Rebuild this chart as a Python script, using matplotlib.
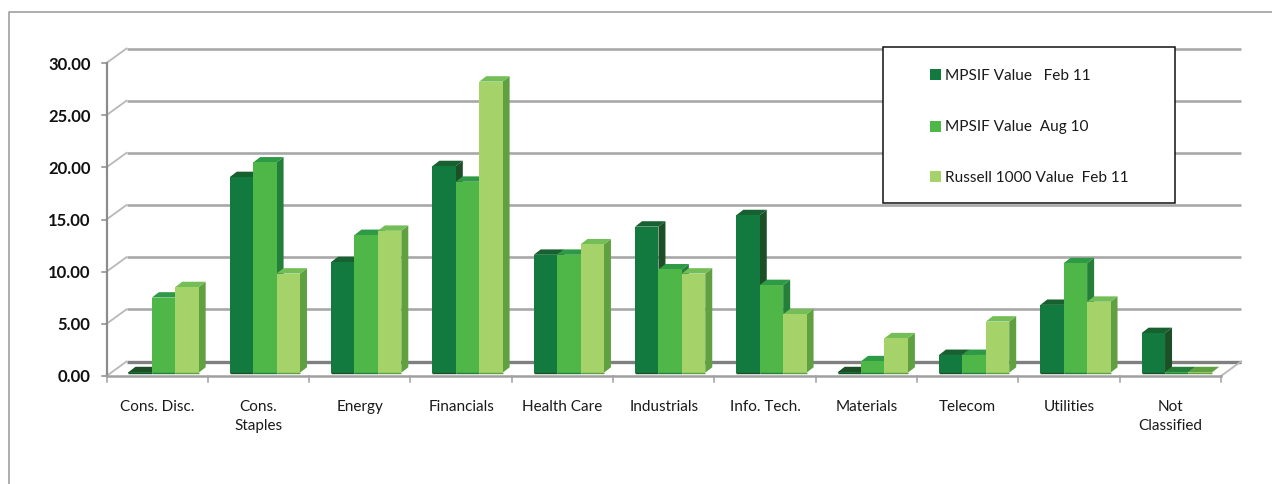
import matplotlib
matplotlib.use("Agg")
import matplotlib.pyplot as plt
from matplotlib.patches import Polygon, Rectangle
from matplotlib.lines import Line2D

plt.rcParams['font.family'] = ['Lato', 'DejaVu Sans']

categories = ["Cons. Disc.", "Cons.\nStaples", "Energy", "Financials", "Health Care", "Industrials",
              "Info. Tech.", "Materials", "Telecom", "Utilities", "Not\nClassified"]
mpsif_feb = [0.05, 18.75, 10.6, 19.8, 11.3, 14.0, 15.1, 0.05, 1.7, 6.5, 3.8]
mpsif_aug = [7.2, 20.15, 13.2, 18.3, 11.3, 9.9, 8.4, 1.1, 1.7, 10.5, 0.05]
russell = [8.2, 9.5, 13.6, 27.9, 12.3, 9.5, 5.6, 3.3, 4.9, 6.8, 0.05]
series_names = ["MPSIF Value   Feb 11", "MPSIF Value  Aug 10", "Russell 1000 Value  Feb 11"]
yticks = [0, 5, 10, 15, 20, 25, 30]

W, H = 1272, 484
fig = plt.figure(figsize=(W / 100, H / 100), dpi=100)
L, R, T, B = 106.5, 1221, 63, 376
ax = fig.add_axes([L / W, 1 - B / H, (R - L) / W, (B - T) / H])
ax.set_xlim(0, len(categories))
ax.set_ylim(0, 30)
ax.axis("off")

# pixels to data units
px = len(categories) / (R - L)
py = 30 / (B - T)

# chart frame
fig.add_artist(Line2D([9 / W, 9 / W, 1], [0, 1 - 12 / H, 1 - 12 / H], color="#a0a0a0", lw=1.2))

# back wall grid and the side connectors
wall_dx, wall_dy = 20 * px, 14.5 * py
for v in yticks:
    c = "#7f7f7f" if v == 0 else "#a8a8a8"
    ax.plot([wall_dx, len(categories) + wall_dx], [v + wall_dy] * 2, color=c, lw=2.4 if v == 0 else 1.9,
            clip_on=False, zorder=1, solid_capstyle="butt")
    ax.plot([0, wall_dx], [v, v + wall_dy], color="#b8b8b8", lw=1.3, clip_on=False, zorder=1)
    ax.plot([-5 * px, 0], [v, v], color="#8c8c8c", lw=1.1, clip_on=False, zorder=1)
    ax.text(-16 * px, v - 1.5 * py, f"{v:.2f}", ha="right", va="center", fontsize=12, fontweight="bold", color="#111111")
ax.plot([len(categories), len(categories) + wall_dx], [0, wall_dy], color="#b8b8b8", lw=1.3, clip_on=False, zorder=1)

# axis lines
ax.plot([0, 0], [0, 30], color="#8c8c8c", lw=1.6, clip_on=False, zorder=2)
ax.plot([0, len(categories)], [0, 0], color="#a0a0a0", lw=1.8, clip_on=False, zorder=2)
for i in range(len(categories) + 1):
    ax.plot([i, i], [0, -6 * py], color="#a0a0a0", lw=1.1, clip_on=False, zorder=2)
for i, name in enumerate(categories):
    ax.text(i + 0.5, -24 * py, name, ha="center", va="top", fontsize=11, color="#1a1a1a", linespacing=1.42)

# front, top, side colours per series
styles = [("#127a3e", "#17602f", "#1c4f25"),
          ("#4eb748", "#2e9a45", "#237f3a"),
          ("#a6d26a", "#74be57", "#5fa041")]
bar_w = 23.4 * px
dx, dy = 7 * px, 5.4 * py
base = 3.3 * py
group_shift = 0.5 + 6.4 * px - 1.5 * bar_w

z = 3
for i in range(len(categories)):
    for s, vals in enumerate([mpsif_feb, mpsif_aug, russell]):
        x0 = i + group_shift + s * bar_w
        x1 = x0 + bar_w
        v = vals[i] + base
        front, top, side = styles[s]
        if vals[i] < 0.1:
            top = side
        ax.add_patch(Polygon([(x1, base), (x1 + dx, base + dy), (x1 + dx, v + dy), (x1, v)], fc=side, ec="none",
                             clip_on=False, zorder=z))
        ax.add_patch(Polygon([(x0, v), (x0 + dx, v + dy), (x1 + dx, v + dy), (x1, v)], fc=top, ec="none",
                             clip_on=False, zorder=z))
        ax.add_patch(Rectangle((x0, base), bar_w, v - base, fc=front, ec="none", clip_on=False, zorder=z + 1))
        ax.plot([x0, x1], [base, base], color=side, lw=1.0, clip_on=False, zorder=z + 1, solid_capstyle="butt")
        z += 2

# legend box, placed by hand as in the reference
fig.add_artist(Rectangle((882.5 / W, 1 - 203 / H), 292 / W, 156 / H, fc="white", ec="#111111", lw=1.1,
                         transform=fig.transFigure, zorder=50))
for name, style, y in zip(series_names, styles, [74, 126, 177]):
    fig.add_artist(Rectangle((930 / W, 1 - (y + 5.5) / H), 11 / W, 11 / H, fc=style[0], ec="none",
                             transform=fig.transFigure, zorder=51))
    fig.text(945 / W, 1 - (y + 1.5) / H, name, ha="left", va="center", fontsize=11.1, color="#1a1a1a", zorder=51)

fig.savefig("out.png", dpi=100, facecolor="white")
